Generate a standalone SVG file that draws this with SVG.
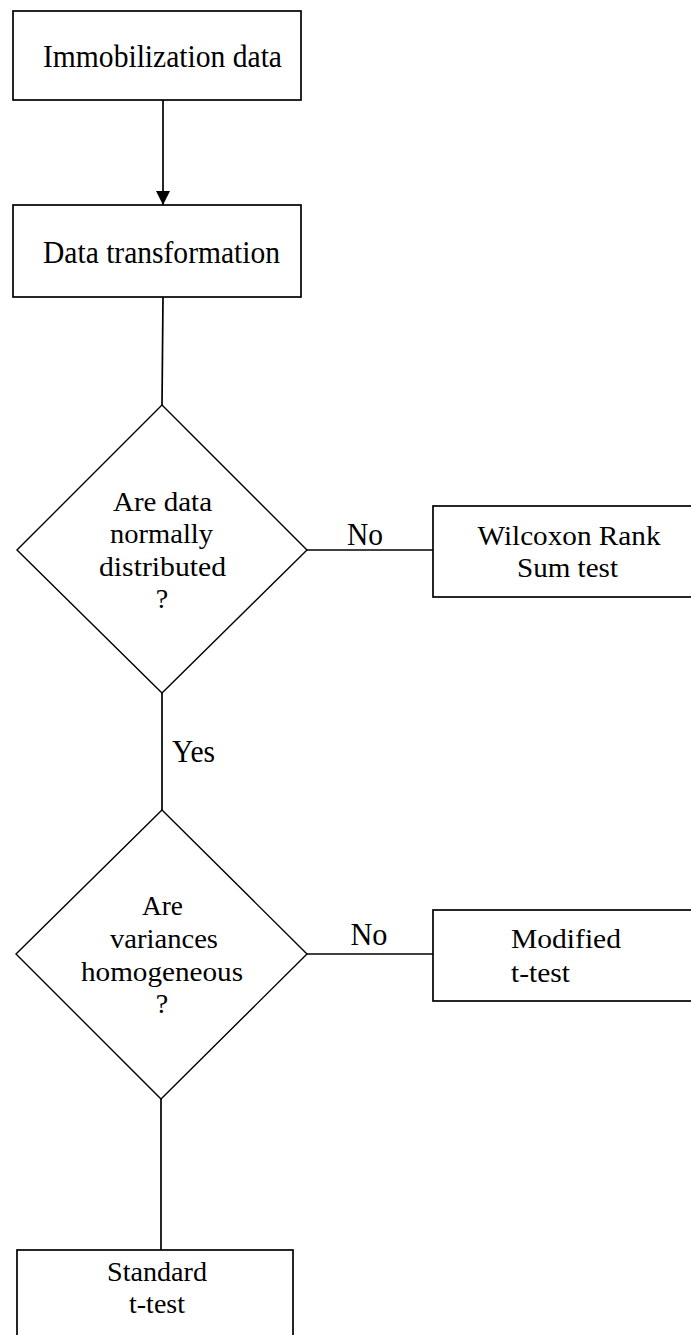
<svg xmlns="http://www.w3.org/2000/svg" width="691" height="1335" viewBox="0 0 691 1335">
<style>
.box{fill:#fff;stroke:#000;stroke-width:1.7}
.dia{fill:#fff;stroke:#000;stroke-width:1.4}
.ln{stroke:#000;stroke-width:1.7;fill:none}
text{font-family:"Liberation Serif","Times New Roman",serif;font-size:31px;fill:#000}
.m{font-size:28px}
.c{text-anchor:middle}
</style>
<defs>
<marker id="arr" markerWidth="14" markerHeight="16" refX="14" refY="8" orient="auto" markerUnits="userSpaceOnUse">
<path d="M0,1 L14,8 L0,15 Z" fill="#000"/>
</marker>
</defs>
<rect width="691" height="1335" fill="#fff"/>
<g id="connectors">
<line class="ln" x1="163" y1="100" x2="163" y2="205" marker-end="url(#arr)"/>
<line class="ln" x1="163" y1="297" x2="162" y2="405"/>
<line class="ln" x1="307" y1="550" x2="433" y2="550"/>
<line class="ln" x1="162" y1="693" x2="162" y2="810"/>
<line class="ln" x1="307" y1="954" x2="433" y2="954"/>
<line class="ln" x1="161" y1="1099" x2="161" y2="1250"/>
<text x="365" y="545" class="c" textLength="36" lengthAdjust="spacingAndGlyphs">No</text>
<text x="172" y="762" textLength="43" lengthAdjust="spacingAndGlyphs">Yes</text>
<text x="369" y="945" class="c" textLength="37" lengthAdjust="spacingAndGlyphs">No</text>
</g>
<g id="n1">
<rect class="box" x="13" y="11" width="288" height="89"/>
<text x="162.5" y="67" class="c" textLength="239" lengthAdjust="spacingAndGlyphs">Immobilization data</text>
</g>
<g id="n2">
<rect class="box" x="13" y="205" width="288" height="92"/>
<text x="161.5" y="263" class="c" textLength="237" lengthAdjust="spacingAndGlyphs">Data transformation</text>
</g>
<g id="d1">
<polygon class="dia" points="162,405 307,550 162,693 17,550"/>
<text x="162.5" y="511" class="c m" textLength="99" lengthAdjust="spacingAndGlyphs">Are data</text>
<text x="161.5" y="543" class="c m" textLength="103" lengthAdjust="spacingAndGlyphs">normally</text>
<text x="162.5" y="576" class="c m" textLength="127" lengthAdjust="spacingAndGlyphs">distributed</text>
<text x="162" y="608" class="c m">?</text>
</g>
<g id="n3">
<rect class="box" x="433" y="506" width="270" height="91"/>
<text x="569" y="545" class="c m" textLength="183" lengthAdjust="spacingAndGlyphs">Wilcoxon Rank</text>
<text x="567.5" y="577" class="c m" textLength="101" lengthAdjust="spacingAndGlyphs">Sum test</text>
</g>
<g id="d2">
<polygon class="dia" points="162,810 307,954 161,1099 16,954"/>
<text x="162.5" y="915" class="c m" textLength="41" lengthAdjust="spacingAndGlyphs">Are</text>
<text x="164" y="948" class="c m" textLength="108" lengthAdjust="spacingAndGlyphs">variances</text>
<text x="162" y="981" class="c m" textLength="162" lengthAdjust="spacingAndGlyphs">homogeneous</text>
<text x="162" y="1013" class="c m">?</text>
</g>
<g id="n4">
<rect class="box" x="433" y="910" width="270" height="91"/>
<text x="511" y="948" class="m" textLength="110" lengthAdjust="spacingAndGlyphs">Modified</text>
<text x="511" y="982" class="m" textLength="59" lengthAdjust="spacingAndGlyphs">t-test</text>
</g>
<g id="n5">
<rect class="box" x="17" y="1250" width="276" height="100"/>
<text x="157" y="1281" class="c m" textLength="100" lengthAdjust="spacingAndGlyphs">Standard</text>
<text x="157" y="1313" class="c m" textLength="56" lengthAdjust="spacingAndGlyphs">t-test</text>
</g>
</svg>
